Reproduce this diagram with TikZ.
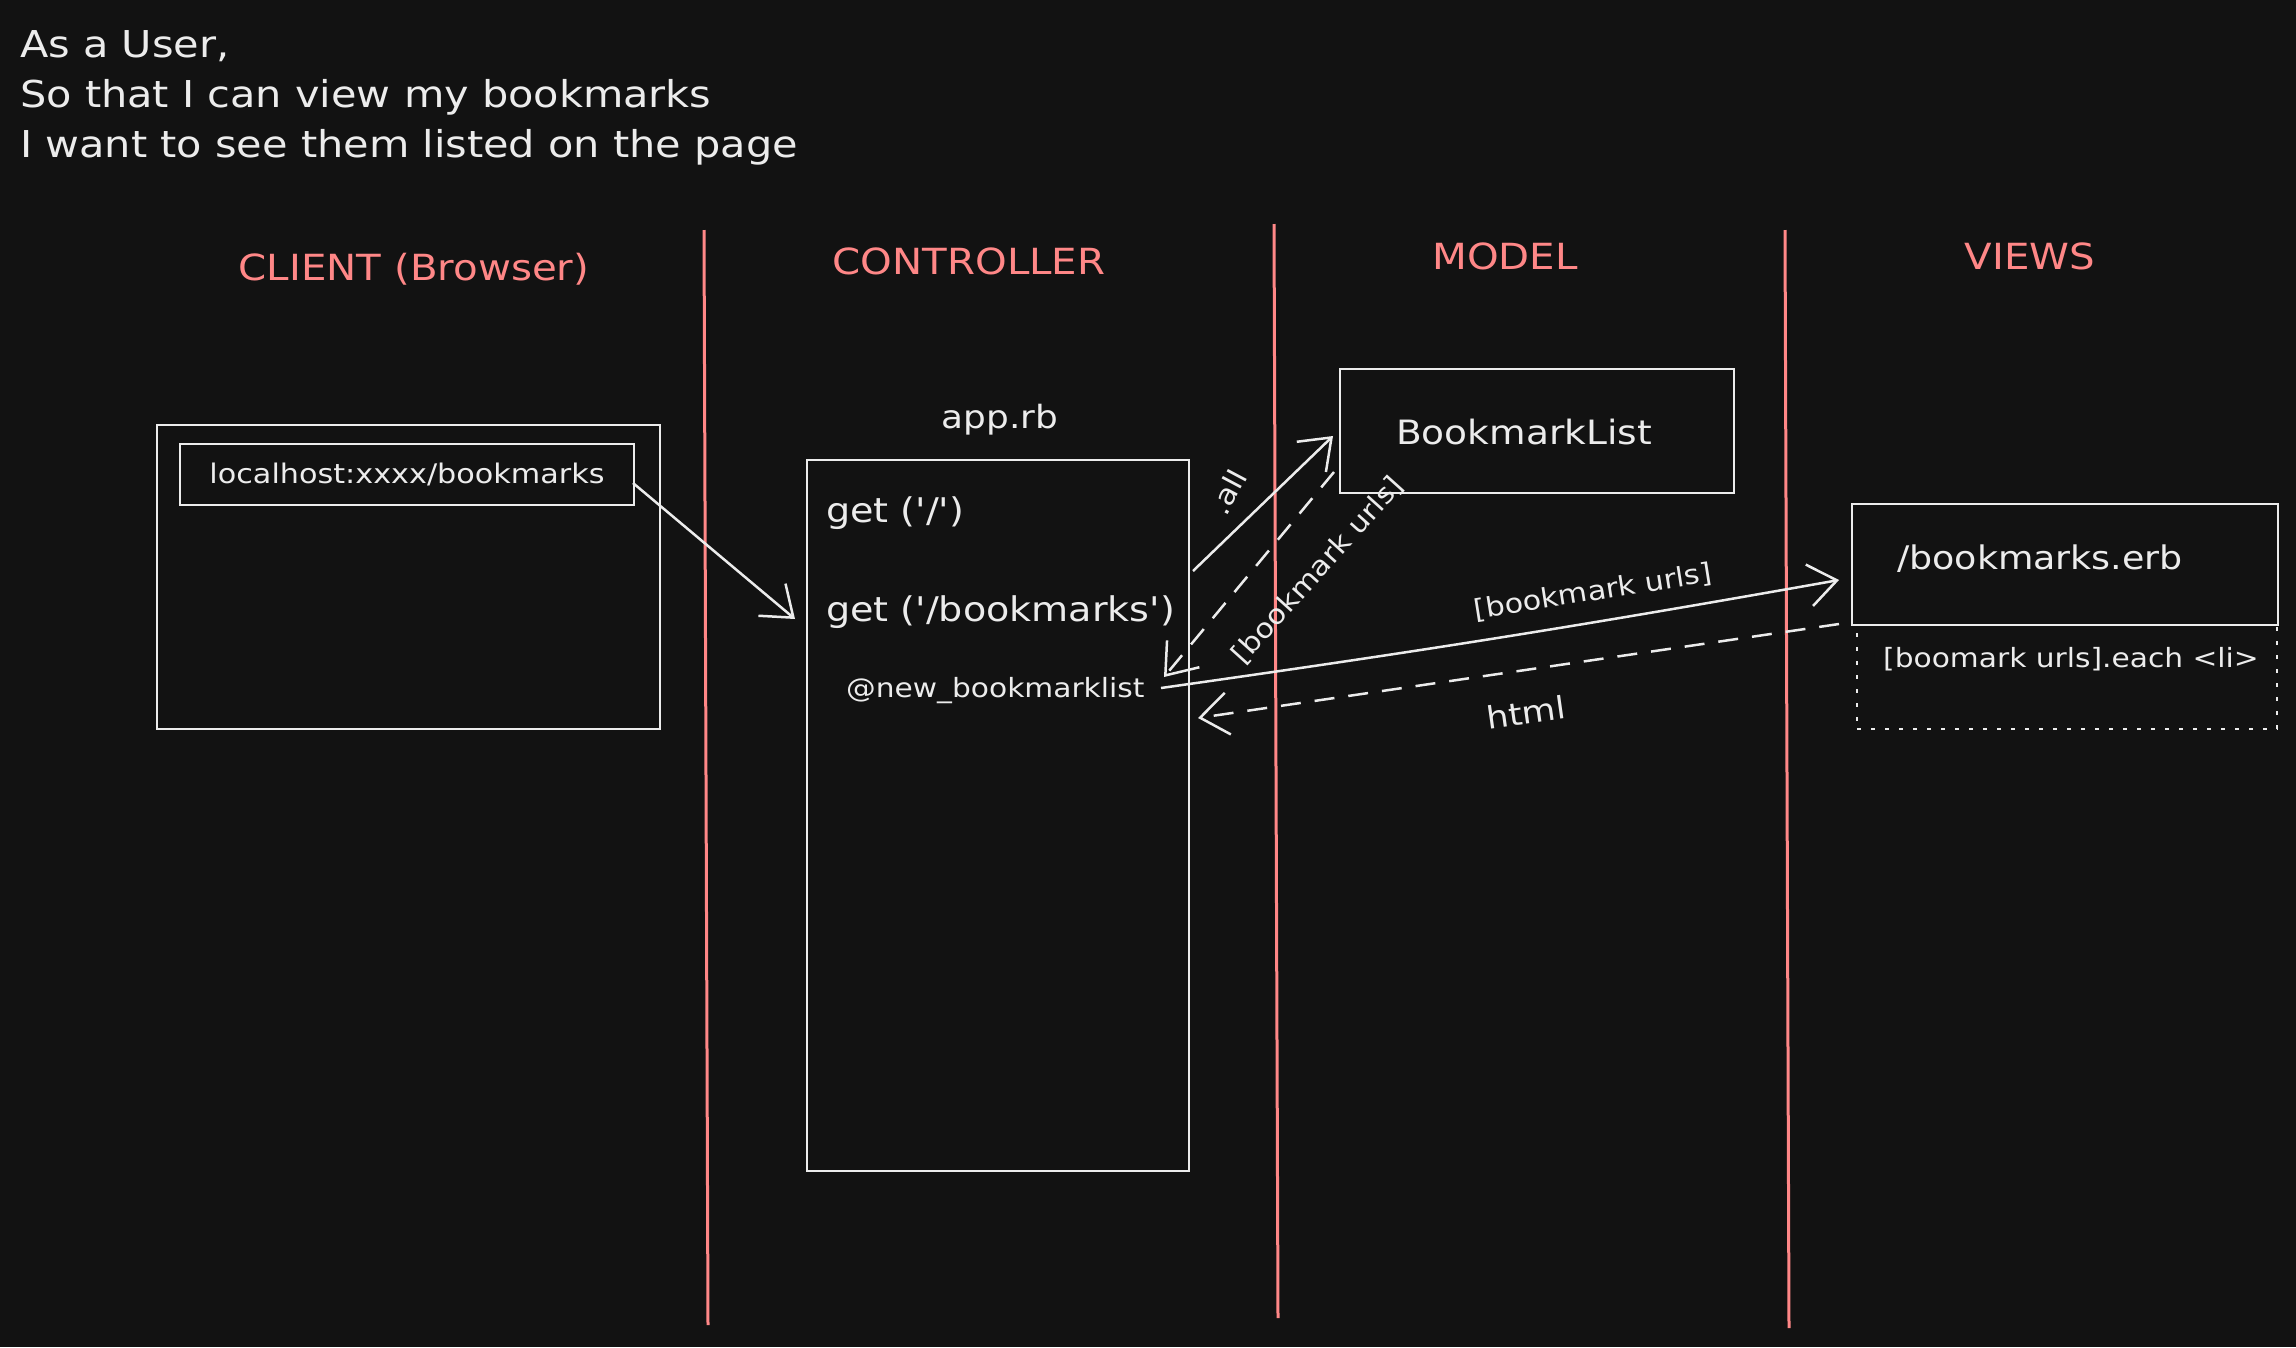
\documentclass[tikz,border=0pt]{standalone}
\usepackage{fontspec}
\setmainfont{DejaVu Sans}[FakeStretch=1.12, Ligatures=TeXOff]
\usetikzlibrary{arrows.meta}
\definecolor{bg}{HTML}{121212}
\definecolor{fg}{HTML}{ECECEC}
\definecolor{accent}{HTML}{FF8787}
\tikzset{
  wl/.style={draw=fg, line width=2.5pt},
  redline/.style={draw=accent, line width=3pt},
  head/.style={text=accent, inner sep=0pt, font=\fontsize{36}{40}\selectfont},
  lbl/.style={text=fg, inner sep=0pt},
  box/.style={wl, inner sep=0pt, text=fg},
  arr/.style={wl, -{Straight Barb[length=28pt,width=42pt,line width=2.5pt]}},
  darr/.style={arr, dash pattern=on 20pt off 14pt},
}
\begin{document}
\begin{tikzpicture}[x=1pt,y=-1pt]
\fill[bg] (0,0) rectangle (2296,1347);
\useasboundingbox (0,0) rectangle (2296,1347);

% story
\node[lbl, anchor=west, align=left, font=\fontsize{37}{50}\selectfont] (story) at (20,98)
  {As a User,\\So that I can view my bookmarks\\I want to see them listed on the page};

% lanes
\coordinate (l1t) at (704,230); \coordinate (l1b) at (708,1325);
\coordinate (l2t) at (1274,224); \coordinate (l2b) at (1278,1318);
\coordinate (l3t) at (1785,230); \coordinate (l3b) at (1789,1328);
\draw[redline] (l1t) -- (l1b);
\draw[redline] (l2t) -- (l2b);
\draw[redline] (l3t) -- (l3b);

\node[head] (hclient) at (414,269) {CLIENT (Browser)};
\node[head] (hctrl) at (969,261) {CONTROLLER};
\node[head] (hmodel) at (1505,256) {MODEL};
\node[head] (hviews) at (2030,256) {VIEWS};

% client
\node[box, minimum width=503pt, minimum height=304pt] (client) at (408.5,577) {};
\node[box, minimum width=454pt, minimum height=61pt, font=\fontsize{27}{32}\selectfont] (url) at (407,474.5) {localhost:xxxx/bookmarks};

% controller
\node[lbl, font=\fontsize{32}{38}\selectfont] (apprb) at (1000,420) {app.rb};
\node[box, minimum width=382pt, minimum height=711pt] (ctrl) at (998,815.5) {};
\node[lbl, anchor=west, font=\fontsize{34}{38}\selectfont] (get1) at (826,513) {get ('/')};
\node[lbl, anchor=west, font=\fontsize{34}{38}\selectfont] (get2) at (826,612) {get ('/bookmarks')};
\node[lbl, anchor=west, font=\fontsize{26.5}{34}\selectfont] (newbl) at (846,691) {@new\_bookmarklist};

% model
\node[box, minimum width=394pt, minimum height=124pt] (bl) at (1537,431) {};
\node[lbl, font=\fontsize{33.5}{40}\selectfont] (bltext) at (1524,432) {BookmarkList};

% views
\node[box, minimum width=426pt, minimum height=121pt] (erb) at (2065,564.5) {};
\node[lbl, font=\fontsize{32.5}{40}\selectfont] (erbtext) at (2040,559) {/bookmarks.erb};
\node[draw=fg, line width=2.5pt, dash pattern=on 4pt off 10pt, minimum width=420pt, minimum height=104pt, inner sep=0pt] (each) at (2067,677) {};
\node[lbl, font=\fontsize{26.5}{30}\selectfont] (eachtext) at (2071,659) {[boomark urls].each <li>};

% arrows
\coordinate (a1s) at (633,483);
\coordinate (a1e) at (795,619);
\draw[arr] (a1s) -- (a1e);

\coordinate (a2s) at (1193,571);
\coordinate (a2e) at (1333,436);
\draw[arr] (a2s) -- (a2e);
\node[lbl, rotate=62, font=\fontsize{28}{32}\selectfont] (all) at (1228,492) {.all};

\coordinate (a3s) at (1334,472);
\coordinate (a3e) at (1164,677);
\draw[darr] (a3s) -- (a3e);
\node[lbl, rotate=48, font=\fontsize{27}{32}\selectfont] (urls1) at (1318,570) {[bookmark urls]};

\coordinate (a4s) at (1161,688);
\coordinate (a4e) at (1839,580);
\draw[arr] (a4s) to[bend right=1] (a4e);
\node[lbl, rotate=9, font=\fontsize{27}{32}\selectfont] (urls2) at (1593,592) {[bookmark urls]};

\coordinate (a5s) at (1839,624);
\coordinate (a5e) at (1198,718);
\draw[darr] (a5s) -- (a5e);
\node[lbl, rotate=8, font=\fontsize{31}{36}\selectfont] (html) at (1526,712) {html};
\end{tikzpicture}
\end{document}
